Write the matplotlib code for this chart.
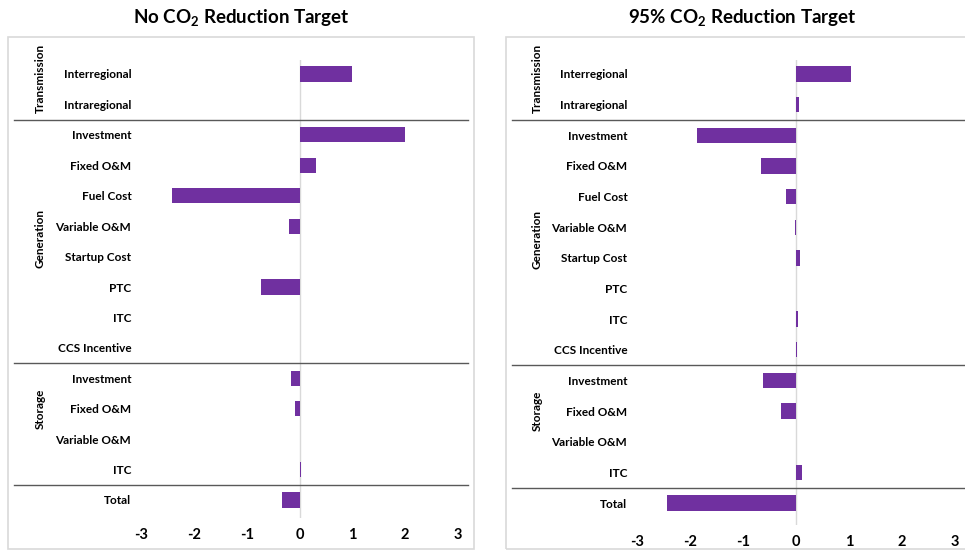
import numpy as np
import matplotlib.pyplot as plt
from matplotlib.patches import Rectangle
from matplotlib.transforms import blended_transform_factory

plt.rcParams['font.family'] = ['Lato', 'DejaVu Sans']
plt.rcParams['mathtext.fontset'] = 'custom'
plt.rcParams['mathtext.rm'] = 'Lato'
plt.rcParams['mathtext.bf'] = 'Lato:bold'

categories = ["Interregional", "Intraregional",
              "Investment", "Fixed O&M", "Fuel Cost", "Variable O&M",
              "Startup Cost", "PTC", "ITC", "CCS Incentive",
              "Investment", "Fixed O&M", "Variable O&M", "ITC",
              "Total"]
groups = ["Transmission", "Generation", "Storage"]
group_rows = [0.15, 5.4, 11.0]
separators = [1.5, 9.5, 13.5]

no_target = [1.0, 0.01,
             2.0, 0.32, -2.42, -0.2, 0.005, -0.72, 0.01, 0.0,
             -0.16, -0.08, 0.0, 0.03,
             -0.33]
target_95 = [1.03, 0.06,
             -1.87, -0.66, -0.19, -0.01, 0.08, 0.0, 0.03, 0.02,
             -0.62, -0.28, -0.005, 0.12,
             -2.43]
xticks = [-3, -2, -1, 0, 1, 2, 3]

W, H = 965, 550
fig = plt.figure(figsize=(W / 100, H / 100), dpi=100)
purple = "#7030A0"


def fx(px):
    return px / W


def fy(py):
    return 1 - py / H


panels = [
    # title, values, box(x0,x1), ax x(-3,3), row0 y, row14 y, axes bottom, title x, group x
    ("No CO$_\\mathbf{2}$ Reduction Target", no_target, (8, 474), (141, 458), 74, 500, 518, 241, 40, (14, 468)),
    ("95% CO$_\\mathbf{2}$ Reduction Target", target_95, (506, 975), (637, 955), 74, 503, 525, 742, 537, (512, 965)),
]

for title, vals, box, xr, r0, r14, bot, tx, gx, sep in panels:
    fig.patches.append(Rectangle((fx(box[0]), fy(549)), fx(box[1] - box[0]), (549 - 37) / H,
                                 transform=fig.transFigure, fill=False,
                                 edgecolor="#d9d9d9", lw=1.2))
    fig.text(fx(tx), fy(18), title, ha="center", va="center",
             fontsize=13.5, fontweight="bold")

    step = (r14 - r0) / 14
    top = 60
    ylo = -(r0 - top) / step
    yhi = 14 + (bot - r14) / step
    ax = fig.add_axes([fx(xr[0]), fy(bot), fx(xr[1] - xr[0]), (bot - top) / H])
    y = np.arange(len(categories))
    ax.barh(y, vals, height=0.5, color=purple)
    ax.set_xlim(-3, 3)
    ax.set_ylim(yhi, ylo)
    ax.axvline(0, color="#d9d9d9", lw=1, zorder=0)
    for s in ax.spines.values():
        s.set_visible(False)
    ax.set_yticks(y)
    ax.set_yticklabels(categories, fontsize=8.5, fontweight="bold")
    ax.set_xticks(xticks)
    ax.set_xticklabels([str(t) for t in xticks], fontsize=10.5, fontweight="bold")
    ax.tick_params(axis="y", length=0, pad=7)
    ax.tick_params(axis="x", length=0, pad=7)
    ax.patch.set_alpha(0)

    tr = blended_transform_factory(fig.transFigure, ax.transData)
    for s in separators:
        ax.plot([fx(sep[0]), fx(sep[1])], [s, s], color="#595959", lw=1,
                transform=tr, clip_on=False)
    for g, gr in zip(groups, group_rows):
        ax.text(fx(gx), gr, g, transform=tr, rotation=90, ha="center",
                va="center", fontsize=8.5, fontweight="bold")

fig.savefig("out.png", dpi=100)
